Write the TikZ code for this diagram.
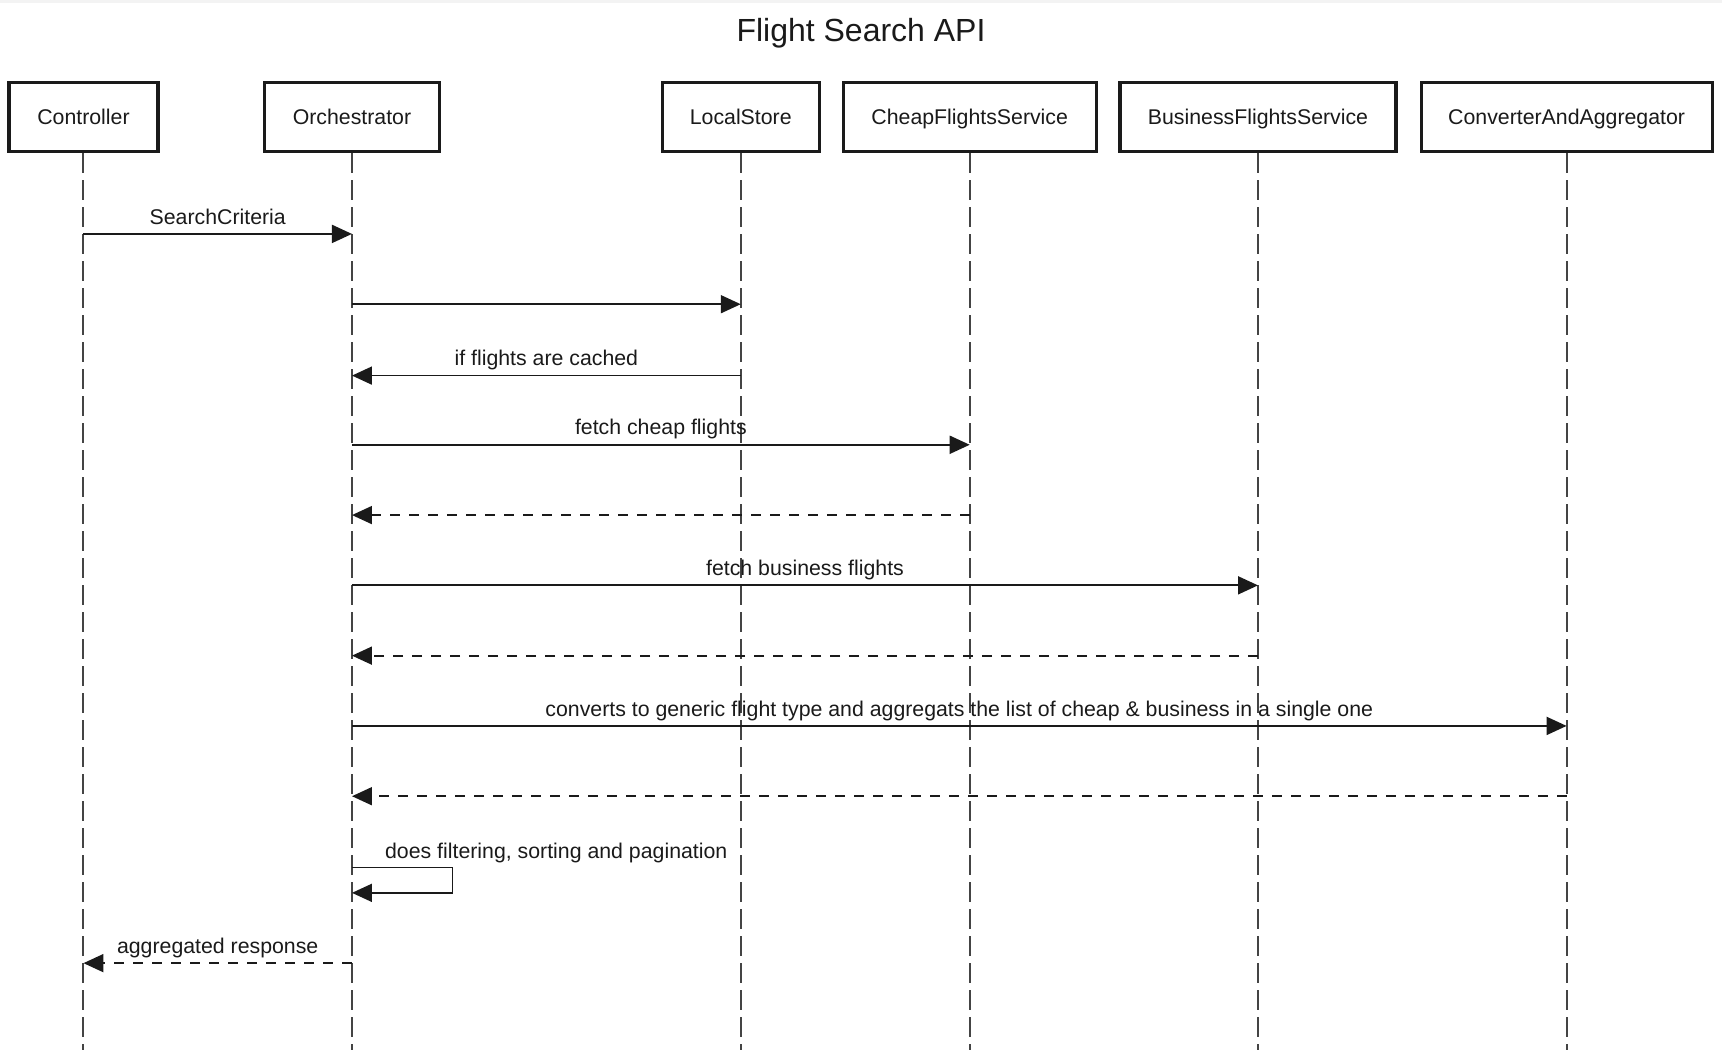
\documentclass[tikz,border=0pt]{standalone}
\usepackage{fontspec}
\setmainfont{Liberation Sans}
\usetikzlibrary{arrows.meta,calc}
\definecolor{ink}{HTML}{1A1A1A}
\definecolor{lifegray}{HTML}{444444}
\definecolor{stripgray}{HTML}{F3F3F3}
\tikzset{
  actor/.style={draw=ink, line width=3.2pt, fill=white, minimum height=69pt, inner sep=0pt,
    font=\fontsize{21.3}{22}\selectfont, text=ink, text height=18pt, text depth=2pt},
  lifeline/.style={draw=lifegray, line width=2pt, dash pattern=on 20pt off 7pt},
  msg/.style={draw=ink, line width=1.8pt, -{Triangle[length=20pt,width=18pt]}},
  ret/.style={msg, dash pattern=on 10pt off 9pt},
  lbl/.style={font=\fontsize{21.3}{22}\selectfont, text=ink, inner sep=0pt,
    text height=15.5pt, text depth=4.5pt},
}
\begin{document}
\begin{tikzpicture}[x=1.0982pt,y=-1.0982pt]
\useasboundingbox (0,0) rectangle (1568,956);
\fill[stripgray] (0,0) rectangle (1568,3);
\node[font=\fontsize{32}{33}\selectfont, text=ink] (title) at (784,30) {Flight Search API};

% actors
\node[actor, minimum width=149pt] (c)  at (76,106.5)   {Controller};
\node[actor, minimum width=175pt] (o)  at (320.5,106.5) {Orchestrator};
\node[actor, minimum width=157pt] (ls) at (674.5,106.5) {LocalStore};
\node[actor, minimum width=253pt] (cf) at (883,106.5)  {CheapFlightsService};
\node[actor, minimum width=276pt] (bf) at (1145.5,106.5) {BusinessFlightsService};
\node[actor, minimum width=291pt] (ca) at (1426.5,106.5) {ConverterAndAggregator};

% bottom coordinate
\coordinate (bottom) at (0,958);
\foreach \a in {c,o,ls,cf,bf,ca}{
  \draw[lifeline] (\a.south) -- (\a |- bottom);
}

% message rows
\coordinate (y1) at (0,213);
\coordinate (y2) at (0,277);
\coordinate (y3) at (0,342);
\coordinate (y4) at (0,405);
\coordinate (y5) at (0,469);
\coordinate (y6) at (0,533);
\coordinate (y7) at (0,597);
\coordinate (y8) at (0,661);
\coordinate (y9) at (0,725);
\coordinate (y10) at (0,790);
\coordinate (y10b) at (0,813);
\coordinate (y11) at (0,877);
\coordinate (selfx) at (412,0);

\draw[msg] (c |- y1) -- node[lbl, above=4.5pt] (l1) {SearchCriteria} (o |- y1);
\draw[msg] (o |- y2) -- (ls |- y2);
\draw[msg] (ls |- y3) -- node[lbl, above=4.5pt] (l3) {if flights are cached} (o |- y3);
\draw[msg] (o |- y4) -- node[lbl, above=4.5pt] (l4) {fetch cheap flights} (cf |- y4);
\draw[ret] (cf |- y5) -- (o |- y5);
\draw[msg] (o |- y6) -- node[lbl, above=4.5pt] (l6) {fetch business flights} (bf |- y6);
\draw[ret] (bf |- y7) -- (o |- y7);
\draw[msg] (o |- y8) -- node[lbl, above=4.5pt] (l8) {converts to generic flight type and aggregats the list of cheap \& business in a single one} (ca |- y8);
\draw[ret] (ca |- y9) -- (o |- y9);
\draw[msg] (o |- y10) -- (selfx |- y10) -- (selfx |- y10b) -- (o |- y10b);
\node[lbl, anchor=south west] (l10) at ($(o |- y10)+(30,-4)$) {does filtering, sorting and pagination};
\draw[ret] (o |- y11) -- node[lbl, above=4.5pt] (l11) {aggregated response} (c |- y11);
\end{tikzpicture}
\end{document}
